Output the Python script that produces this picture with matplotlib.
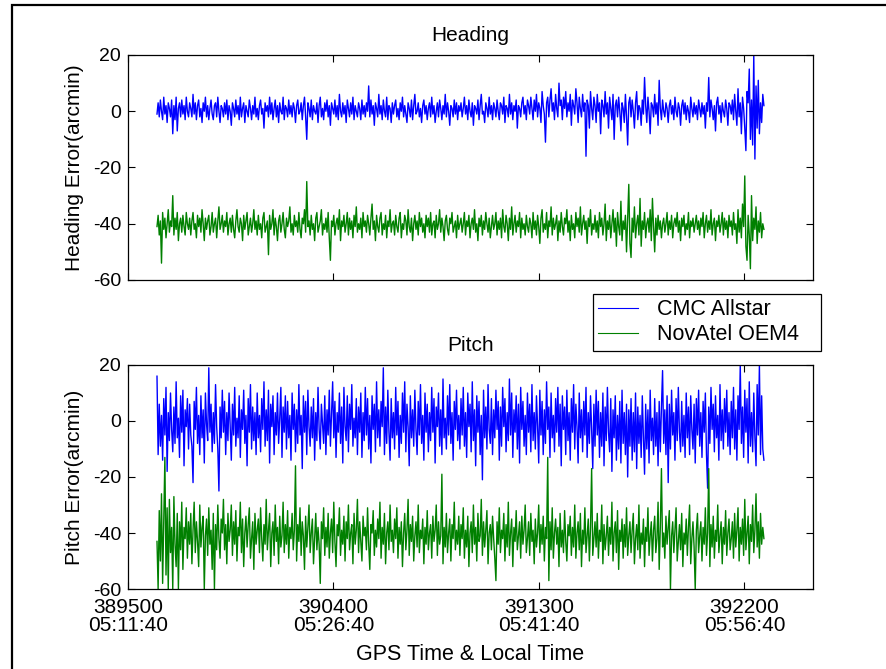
import numpy as np
import matplotlib
matplotlib.use("Agg")
import matplotlib.pyplot as plt
from matplotlib.patches import Rectangle

# GPS time span of the recording (seconds of week)
t_start, t_end = 389627, 392285

# Heading error (arcmin)
heading_cmc = [
    -1, 3, -2, 4, 0, -3, 5, -1, 2, -4, 3, 1, -2, 4, -8, 2, -3, 5, -7, 1, 3, -2, 4, -1, 2, -3, 5, 0, -2, 3,
    1, -2, 6, -1, 3, -3, 2, 4, -2, 1, -4, 3, 0, 5, -2, 2, -3, 1, 4, -1, -3, 2, 3, -2, 5, 0, -4, 2, 1, -2,
    3, -1, 4, -3, 2, 0, -5, 3, 1, -2, 4, -1, 2, -3, 5, -2, 1, 3, -4, 2, 0, -2, 4, 1, -3, 2, -1, 5, -2, 1,
    -3, 2, 4, -1, 1, -6, 3, 0, 2, -2, 5, -1, 3, -3, 1, 4, -2, 2, -4, 3, 0, -1, 5, -3, 2, 1, -2, 4, -1, 2,
    -2, 3, 1, -4, 2, 4, -1, 0, 3, -3, 2, 5, -2, -10, 3, 1, -2, 4, -3, 2, 0, -1, 3, -4, 2, 5, -2, 1, -3, 3,
    0, 4, -2, 2, -5, 3, 1, -1, 4, -2, 2, -3, 6, 0, -2, 3, -1, 2, -4, 4, 1, -2, 3, -1, 5, -3, 2, 0, -2, 3,
    1, -3, 4, -1, 2, -2, 3, 0, 9, -2, 4, -1, 2, -5, 3, 1, -2, 6, -1, 2, -3, 4, 0, -2, 5, -3, 2, 1, -4, 3,
    -1, 2, 4, -2, 1, -3, 3, 0, 5, -2, 2, -1, -4, 3, 1, -2, 4, -3, 2, 6, -1, 0, 3, -2, 1, -4, 2, 4, -1, 2,
    -3, 1, 3, -2, 5, -1, 2, -4, 0, 3, -2, 4, 1, -3, 2, -1, 6, -2, 3, 0, -5, 2, 1, -2, 4, -1, 3, -3, 2, 0,
    3, -2, 1, 5, -1, 2, -3, 4, 0, -2, 3, -5, 2, 1, -1, 4, -3, 2, 6, -1, 0, -4, 3, 1, -2, 5, -1, 2, -3, 3,
    1, -2, 4, 0, -3, 3, 2, -1, 5, -4, 2, 1, -2, 6, -1, 3, -3, 2, 0, 4, -6, 2, 1, -2, 3, 5, -1, 2, -3, 4,
    2, -1, 5, 1, -3, 4, 0, 6, -2, 3, 1, -4, 7, 2, -1, -11, 3, 5, -2, 4, 8, 0, 3, -3, 6, 1, -2, 10, 2, 4,
    -3, 5, 1, 7, -2, 3, 0, 6, -5, 4, 2, -1, 8, 3, -4, 5, 1, -2, 6, 0, 3, -16, 4, 2, -6, 7, 1, -3, 5, 2,
    -4, 6, 0, 3, -8, 4, 2, -2, 7, -1, 3, -6, 5, 1, -3, 6, -10, 2, 4, -2, 5, 0, -7, 3, 1, -4, 6, -2, -12, 3,
    5, -2, 4, 0, -6, 3, 7, -3, 2, 1, -5, 4, -1, 12, 2, -4, 5, 0, -8, 3, 2, -2, 6, -1, 3, -5, 11, 1, -3, 4,
    0, -2, 3, 1, -4, 2, 4, -1, 2, -3, 5, 0, -2, 3, 1, -5, 2, 4, -1, 3, -3, 2, 0, -4, 5, 1, -2, 3, -1, 2,
    -3, 4, 1, -2, 3, -1, 2, -6, 3, 0, 12, -2, 4, 1, -3, 2, -7, 3, 5, -1, 2, -4, 3, 0, -2, 4, 1, -5, 3, 2,
    -1, 4, -3, 6, 0, -5, 8, -2, 3, -8, 5, 1, -6, -14, 7, 3, 15, -10, 4, -12, 20, -17, 9, -6, 11, -8, 3, -4, 6, 2,
]
heading_novatel = [
    -41, -37, -44, -39, -54, -36, -42, -38, -45, -40, -35, -43, -39, -41, -30, -44, -38, -42, -36, -46, -40, -38, -43, -37, -41, -44, -36, -40, -42, -38,
    -44, -39, -36, -42, -40, -45, -37, -41, -38, -43, -35, -40, -46, -38, -42, -39, -37, -44, -41, -36, -43, -40, -38, -45, -39, -34, -42, -40, -37, -43,
    -39, -41, -36, -44, -40, -38, -43, -37, -42, -45, -39, -35, -41, -43, -38, -40, -46, -37, -42, -39, -36, -44, -41, -38, -43, -40, -35, -42, -39, -44,
    -37, -42, -40, -45, -38, -36, -43, -41, -39, -51, -37, -42, -40, -35, -44, -38, -41, -46, -39, -37, -43, -40, -36, -42, -45, -38, -41, -39, -34, -43,
    -40, -44, -37, -41, -39, -43, -36, -42, -45, -38, -40, -35, -43, -25, -41, -39, -44, -37, -42, -40, -46, -38, -36, -43, -41, -39, -35, -44, -40, -42,
    -38, -43, -36, -45, -53, -39, -41, -37, -44, -40, -38, -42, -35, -46, -39, -41, -37, -43, -40, -36, -44, -38, -42, -39, -45, -37, -41, -34, -43, -40,
    -42, -38, -45, -36, -41, -39, -43, -37, -40, -44, -38, -33, -42, -39, -46, -37, -41, -43, -38, -36, -44, -40, -42, -37, -45, -39, -41, -35, -43, -40,
    -39, -44, -37, -41, -43, -38, -36, -45, -40, -42, -37, -39, -44, -35, -41, -43, -38, -46, -40, -37, -42, -39, -44, -36, -41, -38, -43, -40, -45, -37,
    -41, -38, -43, -36, -44, -40, -39, -45, -37, -42, -40, -35, -43, -38, -41, -46, -39, -37, -42, -44, -38, -40, -36, -43, -41, -39, -45, -37, -42, -40,
    -38, -43, -40, -36, -44, -39, -41, -37, -45, -40, -38, -42, -35, -43, -40, -46, -38, -41, -37, -44, -39, -42, -36, -40, -43, -38, -45, -41, -37, -42,
    -40, -36, -44, -39, -42, -38, -45, -35, -41, -43, -37, -40, -46, -38, -42, -34, -44, -40, -37, -43, -39, -41, -36, -45, -38, -42, -40, -44, -37, -41,
    -43, -38, -40, -45, -36, -42, -39, -44, -37, -41, -47, -38, -35, -43, -40, -42, -36, -45, -39, -41, -34, -44, -38, -42, -40, -37, -46, -39, -43, -36,
    -41, -44, -38, -40, -35, -43, -39, -46, -37, -42, -40, -45, -36, -41, -38, -43, -34, -44, -40, -37, -42, -39, -47, -38, -41, -35, -44, -40, -42, -37,
    -43, -39, -45, -36, -41, -38, -44, -40, -33, -46, -39, -42, -37, -45, -40, -35, -43, -38, -48, -36, -41, -44, -32, -46, -39, -42, -37, -50, -38, -26,
    -47, -52, -38, -43, -34, -45, -40, -37, -44, -31, -48, -39, -42, -36, -45, -40, -38, -43, -35, -46, -31, -41, -50, -38, -44, -37, -42, -39, -45, -40,
    -38, -43, -40, -36, -44, -39, -42, -37, -45, -40, -38, -41, -36, -43, -39, -46, -38, -41, -37, -44, -40, -42, -36, -45, -39, -41, -38, -43, -40, -37,
    -42, -39, -44, -38, -41, -36, -45, -40, -37, -43, -39, -42, -35, -44, -40, -38, -46, -39, -41, -37, -43, -40, -36, -44, -38, -42, -39, -45, -37, -41,
    -39, -44, -36, -42, -40, -47, -35, -43, -38, -45, -33, -41, -23, -48, -53, -37, -44, -56, -30, -46, -38, -42, -34, -47, -39, -43, -36, -45, -40, -42,
]

# Pitch error (arcmin)
pitch_cmc = [
    16, -12, 6, -9, 2, -14, 8, -5, 12, -18, 3, -7, 10, -3, -11, 5, -8, 14, -6, 1, -13, 9, -4, 11, -16, 4, -2, 8, -10, 6,
    -5, -9, -22, 7, -3, 12, -8, 2, -12, 9, -6, 4, -15, 10, -1, -7, 19, -4, 6, -11, 3, -8, 13, -2, -10, -25, 5, -6, 11, -4,
    7, -12, 3, -7, 10, -2, -14, 6, -5, 12, -9, 1, -6, 9, -13, 4, -3, 11, -8, 2, -16, 8, -4, 13, -10, 5, -7, 3, -12, 10,
    -6, 2, -11, 8, -3, 14, -9, 4, -7, 11, -15, 6, -2, 9, -12, 3, -5, 10, -8, 1, 12, -13, 5, -4, 9, -10, 7, -6, 2, -14,
    10, -3, 6, -11, 4, -8, 13, -5, 2, -17, 9, -4, 7, -12, 11, -2, -9, 5, -6, 8, -14, 3, -7, 12, -3, -10, 6, -1, -8, 9,
    -12, 4, -5, 11, -9, 2, 14, -6, 7, -13, 3, -4, 10, -8, 5, -15, 12, -2, -7, 9, -11, 6, -3, 13, -9, 1, -6, 8, -12, 5,
    -4, 10, -13, 3, -7, 12, -5, 8, -10, 2, -15, 9, -3, 6, -11, 14, -6, 4, -9, 7, -2, 19, -12, 5, -8, 11, -4, -14, 8, -6,
    3, -10, 12, -5, 7, -13, 2, -8, 10, -4, 14, -11, 6, -2, -16, 9, -6, 4, -9, 11, -3, -12, 7, -5, 13, -8, 2, -14, 10, -4,
    6, -11, 3, -7, 12, -4, 8, -15, 5, -2, 10, -9, 4, -12, 15, -6, 1, -10, 9, -5, 13, -8, 3, -14, 7, -3, 11, -7, 2, -10,
    8, -5, 12, -9, 3, -13, 10, -2, 6, -11, 14, -7, 4, -16, 9, -4, 7, -12, 2, -21, 11, -6, 5, -10, 13, -3, -8, 8, -12, 4,
    -6, 11, -3, 7, -14, 5, -9, 12, -2, 8, -11, 3, -7, 15, -5, 10, -13, 4, -4, 9, -10, 6, -15, 12, -3, 7, -9, 2, -12, 10,
    -4, 6, -11, 13, -7, 3, -10, 9, -2, -15, 11, -5, 7, -12, 4, -8, 14, -3, 5, -13, 10, -6, 2, -11, 8, -4, 12, -9, 6, -16,
    9, -3, 5, -12, 11, -7, 3, -14, 8, -4, 13, -10, 6, -2, -15, 10, -6, 4, -11, 7, -5, 12, -13, 3, -8, 9, -3, -17, 6, -9,
    11, -5, 7, -13, 3, -9, 10, -16, 5, -7, 12, -4, -11, 8, -18, 4, -6, 9, -14, 2, -10, 7, -15, 11, -8, 3, -12, 6, -20, 4,
    -9, 8, -14, 3, -11, 10, -17, 5, -8, 2, -13, 9, -6, -19, 6, -10, 4, -15, 11, -7, 1, -12, 8, -9, 3, -16, 7, -11, 5, 18,
    -8, 4, -12, 9, -22, 6, -10, 11, -5, 3, -14, 8, -7, 12, -4, -11, 7, -9, 2, -13, 10, -6, 5, -12, 9, -3, -10, 6, -15, 8,
    -5, 11, -9, 3, -13, 7, -4, 10, -12, -24, 5, -8, 12, -3, 6, -11, 9, -6, 2, -14, 13, -7, 4, -10, 8, -4, 11, -9, 3, -12,
    7, -6, 12, -10, 4, -14, 9, -3, 20, -8, 5, -13, 11, -4, 8, -15, 14, -9, 3, -11, 10, -6, -16, 13, -5, 20, -12, 9, -10, -14,
]
pitch_novatel = [
    -43, -60, -32, -50, -26, -58, -35, -13, -55, -31, -60, -28, -47, -38, -60, -27, -44, -52, -33, -60, -36, -46, -29, -53, -38, -42, -31, -49, -36, -44,
    -33, -51, -39, -29, -47, -36, -43, -52, -30, -45, -38, -34, -60, -41, -35, -48, -31, -44, -39, -53, -33, -60, -37, -46, -30, -42, -49, -35, -40, -28,
    -46, -37, -51, -33, -43, -39, -30, -48, -36, -44, -32, -50, -38, -41, -29, -47, -35, -52, -40, -34, -45, -37, -31, -49, -42, -36, -53, -33, -44, -39,
    -35, -47, -31, -42, -50, -37, -44, -28, -46, -39, -33, -52, -40, -36, -48, -30, -43, -38, -51, -34, -45, -41, -29, -47, -37, -44, -32, -49, -38, -42,
    -33, -46, -39, -16, -50, -37, -43, -31, -48, -36, -41, -53, -34, -45, -38, -30, -47, -40, -35, -51, -42, -33, -46, -38, -44, -58, -36, -42, -31, -48,
    -38, -45, -33, -49, -40, -35, -47, -29, -43, -52, -37, -41, -31, -48, -39, -44, -34, -50, -36, -42, -30, -46, -40, -37, -51, -33, -44, -39, -28, -47,
    -36, -43, -50, -34, -41, -38, -46, -31, -44, -53, -37, -40, -32, -48, -39, -45, -35, -42, -29, -49, -38, -44, -33, -51, -40, -36, -46, -30, -43, -39,
    -47, -35, -42, -31, -49, -38, -44, -36, -52, -40, -33, -46, -39, -28, -48, -37, -43, -34, -50, -41, -36, -45, -30, -47, -39, -42, -35, -51, -38, -44,
    -32, -46, -40, -37, -49, -34, -43, -39, -30, -48, -36, -44, -41, -19, -51, -38, -45, -33, -47, -40, -35, -50, -37, -42, -29, -46, -39, -44, -34, -48,
    -37, -42, -31, -49, -39, -45, -34, -52, -40, -36, -47, -30, -44, -38, -50, -33, -43, -41, -28, -48, -36, -45, -39, -32, -51, -40, -37, -46, -34, -42,
    -49, -57, -36, -44, -31, -47, -39, -42, -33, -50, -37, -45, -29, -48, -40, -35, -52, -38, -43, -32, -46, -41, -36, -49, -34, -44, -39, -30, -47, -42,
    -36, -48, -33, -43, -39, -51, -35, -45, -40, -30, -47, -37, -44, -34, -50, -38, -42, -13, -57, -36, -46, -31, -49, -40, -35, -44, -38, -52, -33, -45,
    -39, -47, -32, -43, -50, -37, -41, -34, -48, -38, -45, -30, -49, -40, -36, -46, -33, -52, -39, -44, -31, -47, -41, -35, -50, -38, -17, -48, -42, -36,
    -45, -33, -49, -39, -43, -30, -51, -37, -46, -41, -34, -48, -38, -44, -29, -50, -40, -36, -47, -32, -53, -39, -43, -35, -49, -37, -45, -31, -48, -41,
    -36, -47, -39, -33, -51, -42, -37, -46, -30, -49, -40, -44, -35, -52, -38, -43, -31, -48, -41, -36, -50, -39, -34, -47, -42, -29, -53, -38, -17, -45,
    -40, -49, -34, -44, -38, -32, -60, -41, -36, -47, -39, -31, -50, -43, -37, -46, -33, -52, -40, -44, -35, -48, -38, -30, -51, -42, -36, -45, -60, -39,
    -33, -47, -41, -36, -50, -38, -44, -31, -48, -40, -17, -52, -37, -45, -34, -49, -39, -43, -30, -47, -41, -36, -51, -38, -44, -32, -48, -40, -35, -46,
    -42, -36, -49, -33, -45, -39, -31, -50, -38, -44, -35, -48, -28, -46, -40, -34, -51, -37, -43, -30, -47, -39, -26, -45, -36, -49, -33, -44, -38, -42,
]

series_labels = ["CMC Allstar", "NovAtel OEM4"]
series_colors = ["#0000ff", "#008000"]

x_ticks = [389500, 390400, 391300, 392200]
x_ticklabels = ["389500\n05:11:40", "390400\n05:26:40", "391300\n05:41:40", "392200\n05:56:40"]
y_ticks = [-60, -40, -20, 0, 20]

REG = ["Liberation Sans", "DejaVu Sans"]

fig = plt.figure(figsize=(8.87, 6.69), dpi=100)
fig.patch.set_facecolor("white")

# outer frame
fig.add_artist(Rectangle((12 / 887, -0.2), 1.2, 1.2 - 5 / 669,
                         transform=fig.transFigure, fill=False,
                         edgecolor="black", linewidth=1.6))

ax_h = fig.add_axes([128 / 887, 1 - 280 / 669, 685 / 887, 225 / 669])
ax_p = fig.add_axes([128 / 887, 1 - 589 / 669, 685 / 887, 224 / 669])


def draw(ax, cmc, nov, title, ylabel, show_xlabels):
    for vals, col, lab in ((cmc, series_colors[0], series_labels[0]),
                           (nov, series_colors[1], series_labels[1])):
        t = np.linspace(t_start, t_end, len(vals))
        ax.plot(t, vals, color=col, linewidth=1.0, label=lab)
    ax.set_xlim(389500, 392500)
    ax.set_ylim(-60, 20)
    ax.set_yticks(y_ticks)
    ax.set_yticklabels([str(v) for v in y_ticks], family=REG, fontsize=14)
    ax.set_xticks(x_ticks)
    if show_xlabels:
        ax.set_xticklabels(x_ticklabels, family=REG, fontsize=15,
                           linespacing=0.9)
    else:
        ax.set_xticklabels([])
    ax.tick_params(axis="y", direction="in", length=5, width=0.8, right=True,
                   pad=5, color="black")
    ax.tick_params(axis="x", direction="in", length=5, width=0.8, top=True,
                   pad=6.5, color="black")
    for s in ax.spines.values():
        s.set_linewidth(0.9)
        s.set_color("black")
    ax.set_title(title, family=REG, fontsize=15, pad=10)
    ax.set_ylabel(ylabel, family=REG, fontsize=15, labelpad=6)


draw(ax_h, heading_cmc, heading_novatel, "Heading", "Heading Error(arcmin)", False)
draw(ax_p, pitch_cmc, pitch_novatel, "Pitch", "Pitch Error(arcmin)", True)
ax_p.set_xlabel("GPS Time & Local Time", family=REG, fontsize=15.5, labelpad=7)

leg = ax_h.legend(loc="upper left",
                  bbox_to_anchor=(593 / 887, 1 - 351 / 669, 228 / 887, 57 / 669),
                  bbox_transform=fig.transFigure, mode="expand",
                  prop={"family": REG, "size": 15.5},
                  frameon=True, fancybox=False, shadow=False, framealpha=1,
                  borderaxespad=0, handlelength=1.85, handletextpad=0.85,
                  labelspacing=0.18, borderpad=0.25)
leg.get_frame().set_edgecolor("black")
leg.get_frame().set_linewidth(0.9)
for h in leg.get_lines():
    h.set_linewidth(0.8)

fig.savefig("out.png", dpi=100)
